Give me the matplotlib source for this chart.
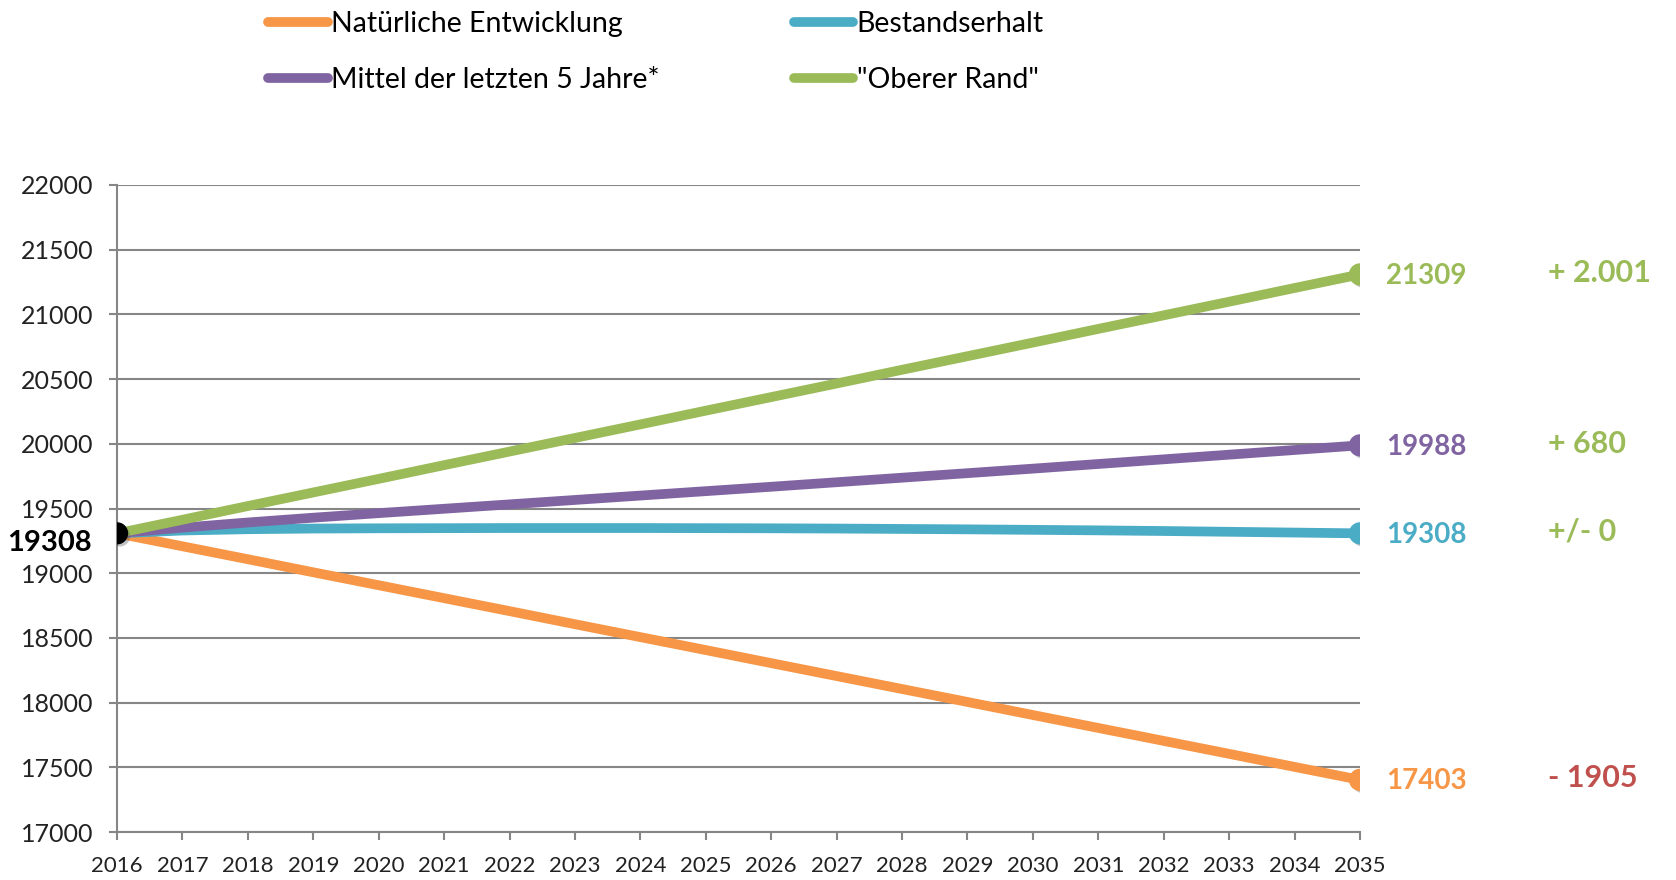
import matplotlib
matplotlib.use("Agg")
import matplotlib.pyplot as plt
import matplotlib.patheffects as pe

# Daten
years = list(range(2016, 2036))
natuerlich = [19308, 19208, 19108, 19007, 18907, 18807, 18707, 18606, 18506, 18406,
              18305, 18205, 18105, 18005, 17904, 17804, 17704, 17604, 17503, 17403]
bestand = [19308, 19330, 19340, 19345, 19347, 19348, 19349, 19349, 19349, 19348,
           19347, 19345, 19342, 19339, 19335, 19331, 19326, 19320, 19314, 19308]
mittel = [19308, 19352, 19392, 19429, 19464, 19498, 19532, 19566, 19600, 19634,
          19668, 19703, 19738, 19773, 19808, 19844, 19880, 19916, 19952, 19988]
oberer = [19308, 19413, 19519, 19624, 19729, 19835, 19940, 20045, 20150, 20256,
          20361, 20466, 20572, 20677, 20782, 20888, 20993, 21098, 21204, 21309]

series_names = ["Natürliche Entwicklung", "Bestandserhalt",
                "Mittel der letzten 5 Jahre*", '"Oberer Rand"']
series_values = [natuerlich, bestand, mittel, oberer]
series_colors = ["#F79646", "#4BACC6", "#8064A2", "#9BBB59"]
change_labels = ["- 1905", "+/- 0", "+ 680", "+ 2.001"]
change_colors = ["#C0504D", "#9BBB59", "#9BBB59", "#9BBB59"]

y_ticks = list(range(17000, 22001, 500))

plt.rcParams['font.family'] = ['Lato', 'DejaVu Sans']

fig = plt.figure(figsize=(16.76, 8.8), dpi=100)
ax = fig.add_axes([117 / 1676, 48 / 880, 1243 / 1676, 647 / 880])

shadow = [pe.SimplePatchShadow(offset=(2, -2), alpha=0.35, shadow_rgbFace="#555555"), pe.Normal()]

lines = {}
for name, vals, col in zip(series_names, series_values, series_colors):
    ln, = ax.plot(years, vals, color=col, lw=7, solid_capstyle='round', label=name, zorder=3)
    lines[name] = ln
    ax.plot(years[-1], vals[-1], 'o', color=col, ms=15, zorder=4, path_effects=shadow)

# Startpunkt
ax.plot(years[0], natuerlich[0], 'o', color='black', ms=15, zorder=5, path_effects=shadow)
ax.annotate(str(natuerlich[0]), xy=(years[0], natuerlich[0]), xytext=(-18, -7),
            textcoords='offset points', ha='right', va='center',
            fontsize=21, fontweight='bold', color='black', annotation_clip=False)

# Endwerte und Veraenderungen
for vals, col, chg, ccol in zip(series_values, series_colors, change_labels, change_colors):
    ax.annotate(str(vals[-1]), xy=(years[-1], vals[-1]), xytext=(19, -1),
                textcoords='offset points', ha='left', va='center',
                fontsize=20, fontweight='bold', color=col, annotation_clip=False)
    ax.annotate(chg, xy=(years[-1], vals[-1]), xytext=(135, 1),
                textcoords='offset points', ha='left', va='center',
                fontsize=22, fontweight='bold', color=ccol, annotation_clip=False)

ax.set_xlim(2016, 2035)
ax.set_ylim(17000, 22000)
ax.set_yticks(y_ticks)
ax.set_xticks(years)
ax.set_xticklabels([str(y) for y in years])

ax.grid(axis='y', color='#868686', lw=1.5)
ax.set_axisbelow(True)
for s in ['top', 'right']:
    ax.spines[s].set_visible(False)
for s in ['left', 'bottom']:
    ax.spines[s].set_color('#868686')
    ax.spines[s].set_linewidth(1.5)
ax.tick_params(axis='both', color='#868686', width=1.5, length=6)
ax.tick_params(axis='x', pad=11, labelsize=16, labelcolor='#222222')
ax.tick_params(axis='y', pad=11, labelsize=18, labelcolor='#222222')

handles = [lines[series_names[0]], lines[series_names[2]],
           lines[series_names[1]], lines[series_names[3]]]
leg = fig.legend(handles=handles, labels=[h.get_label() for h in handles],
                 loc='upper left', bbox_to_anchor=(268 / 1676, 0.987), ncol=2,
                 frameon=False, fontsize=20.5, handlelength=2.1, handletextpad=0.12,
                 columnspacing=4.7, labelspacing=1.05, borderpad=0, borderaxespad=0)

fig.savefig("out.png", dpi=100)
